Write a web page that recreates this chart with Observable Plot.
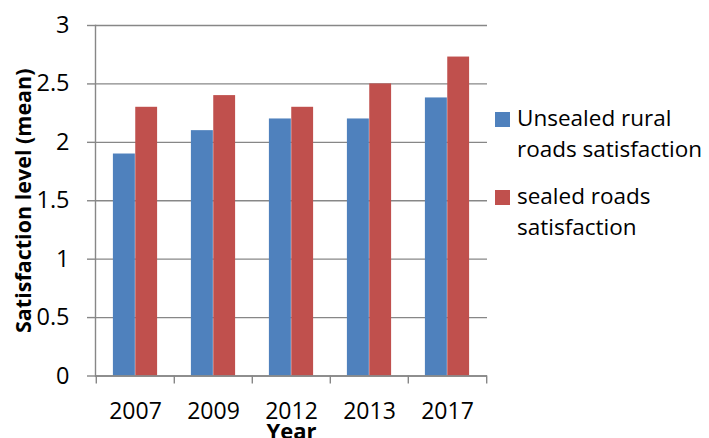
<!DOCTYPE html>
<html>
<head>
<meta charset="utf-8">
<script src="https://cdn.jsdelivr.net/npm/d3@7"></script>
<script src="https://cdn.jsdelivr.net/npm/@observablehq/plot@0.6"></script>
<style>
  html, body { margin: 0; padding: 0; background: #fff; }
  #wrap { position: relative; width: 709px; height: 438px; overflow: hidden; font-family: "Open Sans", sans-serif; }
  #chart { position: absolute; left: 0; top: 0; }
  .leg { position: absolute; left: 495px; font-size: 22.5px; line-height: 31px; color: #000; }
  .sw { position: absolute; left: 0; width: 15px; height: 15px; }
  .lt { position: absolute; left: 22px; white-space: nowrap; }
</style>
</head>
<body>
<div id="wrap">
  <div id="chart"></div>
</div>
<script>
const years = ["2007", "2009", "2012", "2013", "2017"];
const seriesNames = ["Unsealed rural roads satisfaction", "sealed roads satisfaction"];
const unsealed = [1.9, 2.1, 2.2, 2.2, 2.38];
const sealed = [2.3, 2.4, 2.3, 2.5, 2.73];
const colors = ["#4F81BD", "#C0504D"];
const yTicks = [0, 0.5, 1, 1.5, 2, 2.5, 3];
const yTickLabels = ["0", "0.5", "1", "1.5", "2", "2.5", "3"];
const yTitle = "Satisfaction level (mean)";
const xTitle = "Year";
const legendLines = [["Unsealed rural", "roads satisfaction"], ["sealed roads", "satisfaction"]];

const W = 495, H = 438;
const mL = 95, mR = 8, mT = 25, mB = 62.5;
const bw = (W - mL - mR) / years.length;
const barW = 22.35, outer = 16.9;

const dataU = years.map((y, i) => ({year: y, value: unsealed[i]}));
const dataS = years.map((y, i) => ({year: y, value: sealed[i]}));
const grey = "#878787";

const chart = Plot.plot({
  width: W, height: H,
  marginLeft: mL, marginRight: mR, marginTop: mT, marginBottom: mB,
  style: {fontFamily: "'Open Sans', sans-serif", background: "#fff", color: "#000"},
  x: {domain: years, padding: 0, axis: null},
  y: {domain: [0, 3], axis: null},
  marks: [
    Plot.gridY(yTicks, {stroke: grey, strokeOpacity: 1, strokeWidth: 1.4}),
    Plot.barY(dataU, {x: "year", y: "value", fill: colors[0], insetLeft: outer, insetRight: bw - outer - barW}),
    Plot.barY(dataS, {x: "year", y: "value", fill: colors[1], insetLeft: outer + barW, insetRight: outer}),
    Plot.frame({anchor: "left", stroke: grey, strokeWidth: 1.4}),
    Plot.ruleY([0], {stroke: grey, strokeWidth: 1.4}),
    Plot.axisY({ticks: yTicks, tickFormat: (d) => yTickLabels[yTicks.indexOf(d)], tickSize: 8, tickPadding: 18, stroke: grey, strokeWidth: 1.4, fontSize: 23.5, label: null}),
    Plot.axisX({tickSize: 0, tickPadding: 26.5, fontSize: 23, label: null}),
    Plot.axisX({tickSize: 8, text: null, dx: -bw / 2, stroke: grey, strokeWidth: 1.4, label: null}),
    Plot.axisX({ticks: [years[years.length - 1]], tickSize: 8, text: null, dx: bw / 2, stroke: grey, strokeWidth: 1.4, label: null}),
    Plot.text([yTitle], {frameAnchor: "left", textAnchor: "middle", rotate: -90, dx: -71, fontWeight: "bold", fontSize: 21.5, fill: "#000"}),
    Plot.text([xTitle], {frameAnchor: "bottom", dy: 56.2, lineAnchor: "middle", fontWeight: "bold", fontSize: 22, fill: "#000"})
  ]
});
document.getElementById("chart").appendChild(chart);

// HTML legend
const wrap = document.getElementById("wrap");
const legTops = [102, 180];
legendLines.forEach((lines, i) => {
  const g = document.createElement("div");
  g.className = "leg";
  g.style.top = legTops[i] + "px";
  const sw = document.createElement("div");
  sw.className = "sw";
  sw.style.background = colors[i];
  sw.style.top = "10px";
  g.appendChild(sw);
  lines.forEach((t, j) => {
    const s = document.createElement("div");
    s.className = "lt";
    s.style.top = (j * 31) + "px";
    s.textContent = t;
    g.appendChild(s);
  });
  wrap.appendChild(g);
});
</script>
</body>
</html>
